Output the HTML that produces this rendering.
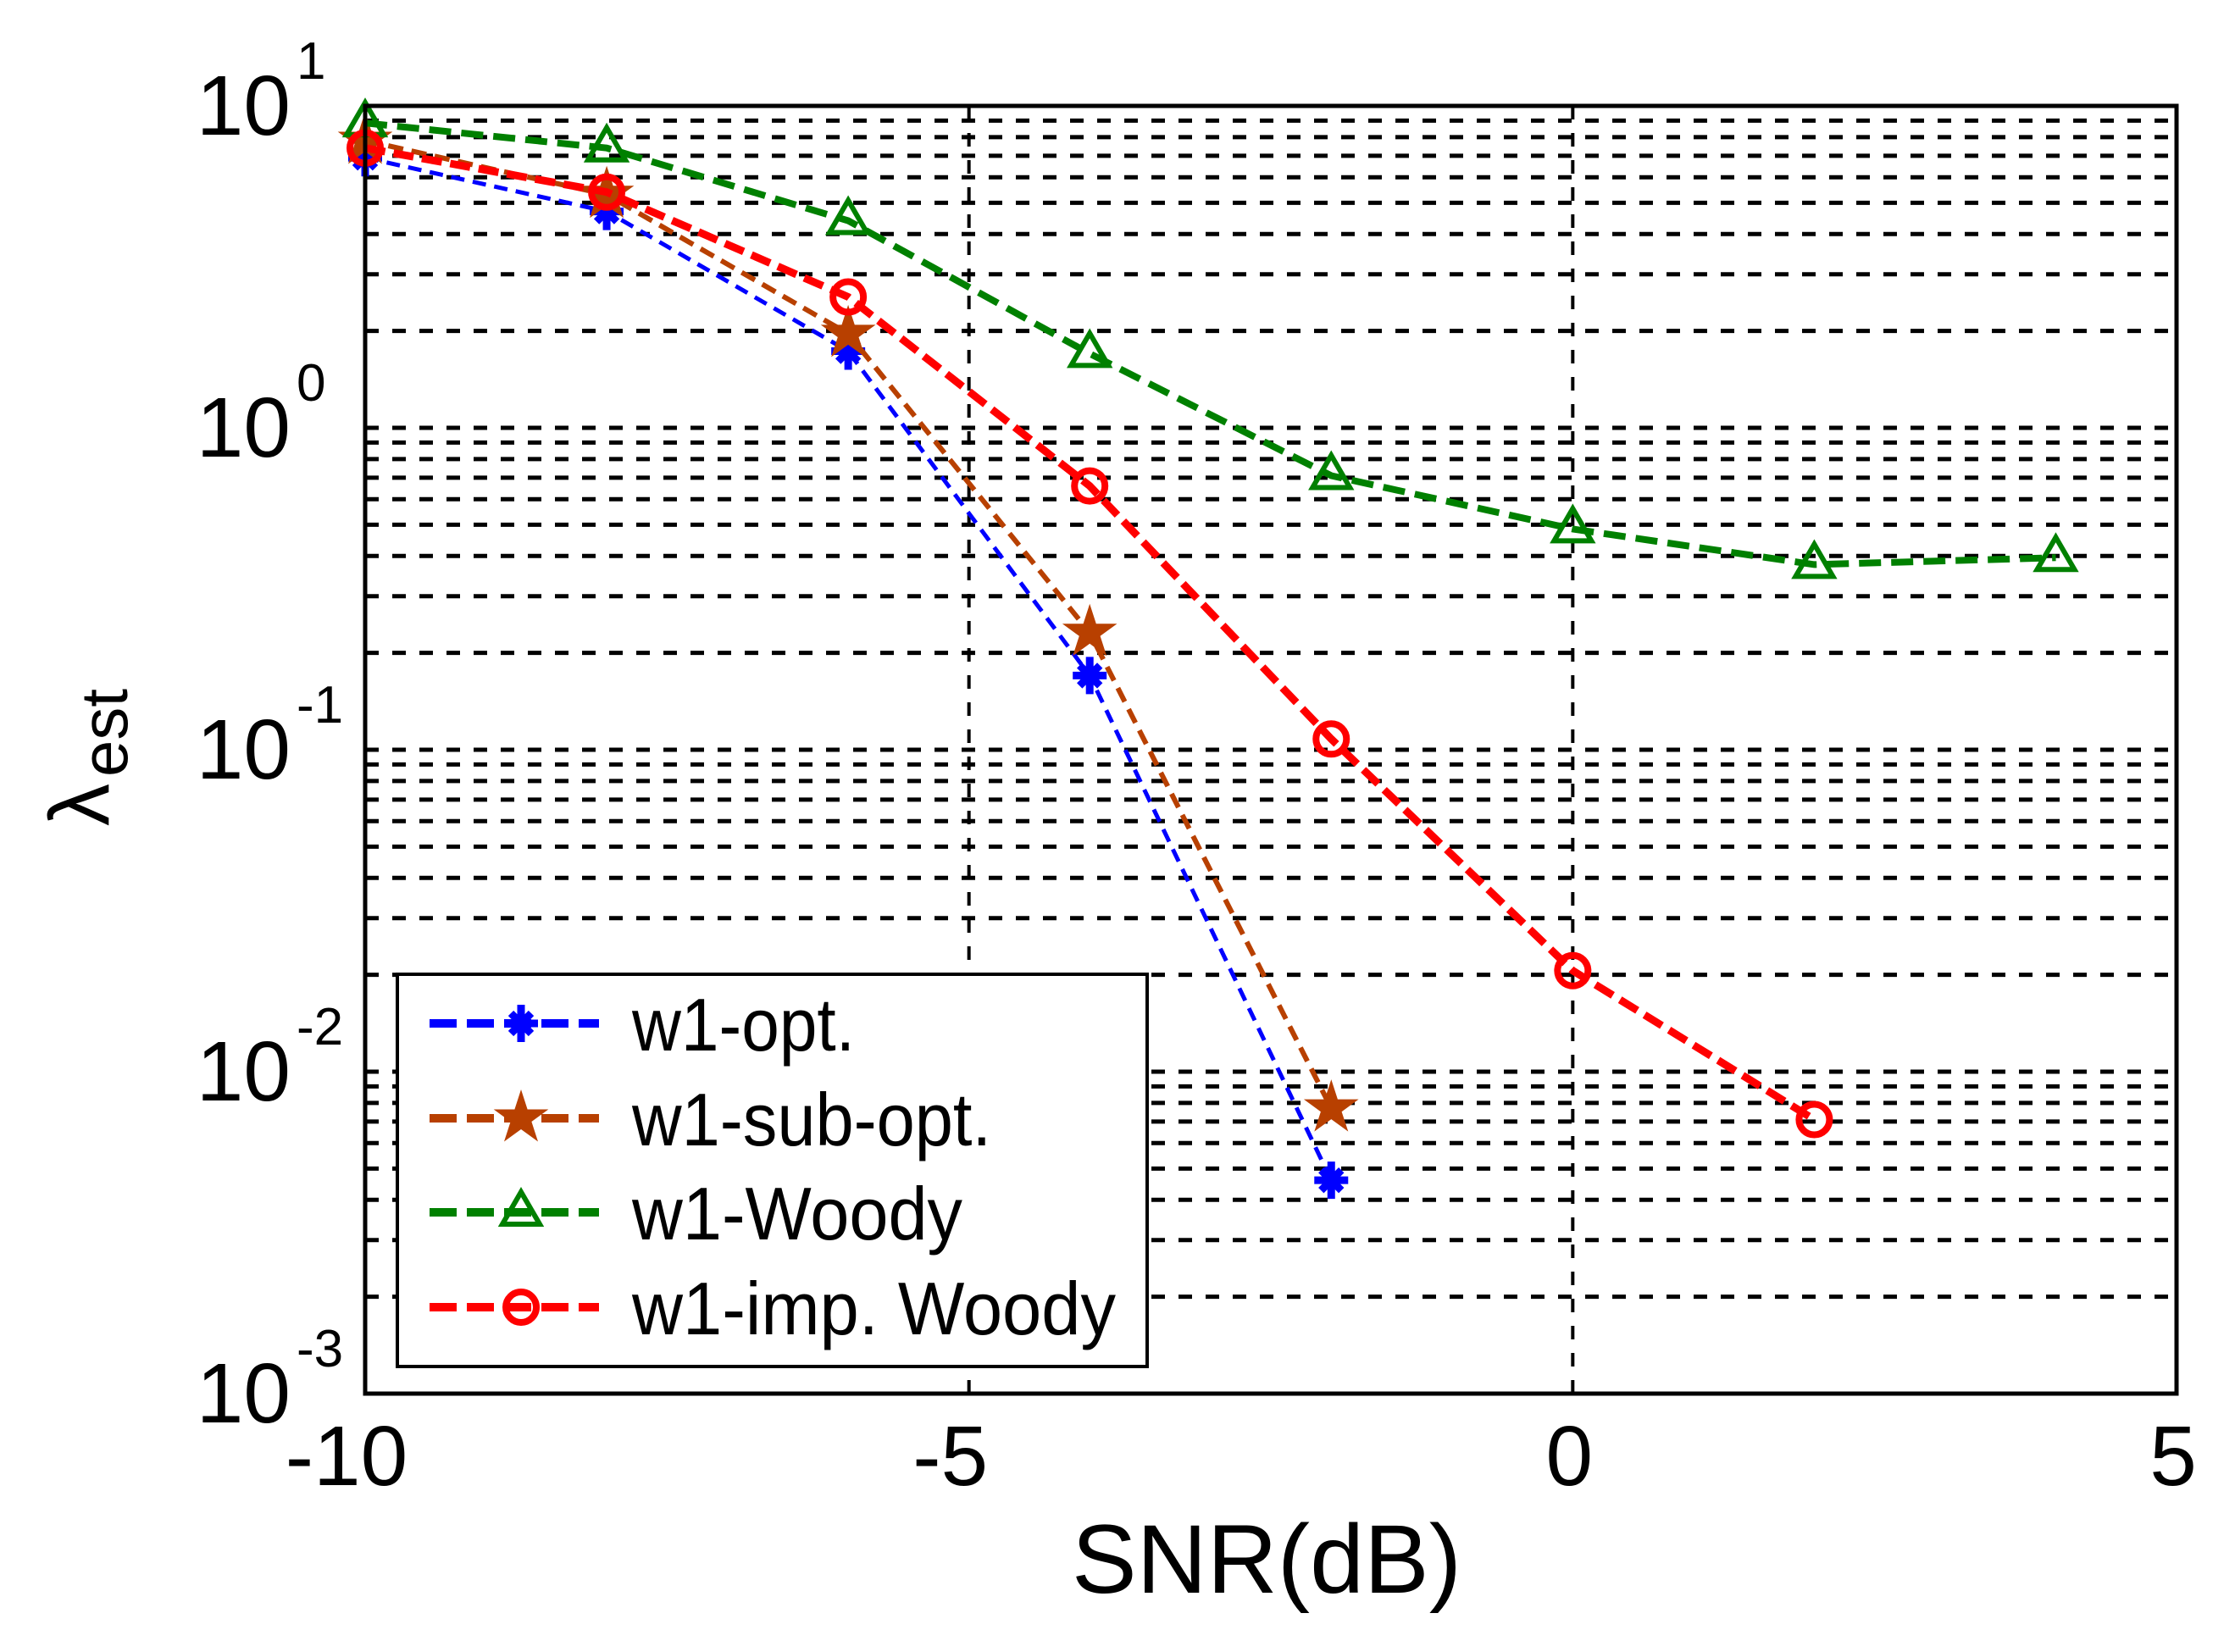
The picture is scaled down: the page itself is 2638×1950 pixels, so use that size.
<!DOCTYPE html>
<html><head><meta charset="utf-8"><style>
html,body{margin:0;padding:0;background:#fff;}
svg{display:block;}
text{font-family:"Liberation Sans",sans-serif;fill:#000;}
</style></head><body>
<svg id="chart" width="2638" height="1950" viewBox="0 0 2638 1950" xmlns="http://www.w3.org/2000/svg">
<g id="grid"></g>
<g id="series"></g>
<rect x="431" y="125" width="2138" height="1520" fill="none" stroke="#000" stroke-width="5"/>
<g id="xticks"></g>
<g id="yticks"></g>
<text x="1495" y="1880" font-size="115" text-anchor="middle">SNR(dB)</text>
<g transform="translate(128,975) rotate(-90)">
<text x="0" y="0" font-size="100" font-family="'DejaVu Serif',serif">λ</text>
<text x="58" y="22" font-size="78">est</text>
</g>
<g id="legend">
<rect x="469" y="1150" width="885" height="463" fill="#fff" stroke="#000" stroke-width="4"/>
</g>
</svg>
<script>
const xVals = [-10, -8, -6, -4, -2, 0, 2, 4];
const optVals = [6.9, 4.7, 1.73, 0.17, 0.0046];
const subOptVals = [7.8, 5.3, 1.96, 0.231, 0.0077];
const woodyVals = [8.85, 7.4, 4.4, 1.7, 0.71, 0.485, 0.376, 0.395];
const impWoodyVals = [7.4, 5.4, 2.55, 0.66, 0.108, 0.0206, 0.0071];
const xTicks = [-10, -5, 0, 5];
const yTickExps = [1, 0, -1, -2, -3];
const seriesNames = ["w1-opt.", "w1-sub-opt.", "w1-Woody", "w1-imp. Woody"];
const legendTextWidths = [263, 424, 390, 571];

const NS = "http://www.w3.org/2000/svg";
const L = 431, R = 2569, T = 125, B = 1645;
function xs(v){ return L + (v + 10) / 15 * (R - L); }
function ys(v){ return T + (1 - Math.log10(v)) / 4 * (B - T); }
function mk(tag, attrs, parent){
  const e = document.createElementNS(NS, tag);
  for (const k in attrs) e.setAttribute(k, attrs[k]);
  parent.appendChild(e);
  return e;
}
const grid = document.getElementById('grid');
for (let e = -3; e < 1; e++) {
  for (let m = 1; m <= 9; m++) {
    const v = m * Math.pow(10, e);
    const y = ys(v);
    const ln = mk('line', {x1:L, x2:R, y1:y, y2:y, stroke:'#000', 'stroke-width':5, 'stroke-dasharray':'16 16'}, grid);
    
    
  }
}
xTicks.forEach(t => {
  const x = xs(t);
  const ln = mk('line', {x1:x, x2:x, y1:T, y2:B, stroke:'#000', 'stroke-width':4, 'stroke-dasharray':'16 16'}, grid);
  
  
});
const xt = document.getElementById('xticks');
xTicks.forEach(t => {
  const tx = mk('text', {x: xs(t) + (t < 0 ? -22 : -4), y: 1753, 'font-size': 100, 'text-anchor':'middle'}, xt);
  tx.textContent = String(t);
  
  
});
const yt = document.getElementById('yticks');
yTickExps.forEach(ex => {
  const y = ys(Math.pow(10, ex));
  const tx = mk('text', {x: 343, y: y + 34, 'font-size': 100, 'text-anchor':'end'}, yt);
  tx.textContent = '10';
  
  
  const sp = mk('text', {x: 350, y: y - 32, 'font-size': 62}, yt);
  sp.textContent = String(ex);
  
  
});

function marker(type, x, y, color, parent){
  let g;
  if (type === 'plus') {
    g = mk('path', {d:`M${x-20},${y}L${x+20},${y}M${x},${y-22}L${x},${y+22}M${x-12},${y-12}L${x+12},${y+12}M${x-12},${y+12}L${x+12},${y-12}`, stroke:color, 'stroke-width':9, fill:'none'}, parent);
  } else if (type === 'star') {
    let p = '';
    for (let i = 0; i < 10; i++) {
      const r = i % 2 ? 13 : 34;
      const a = -Math.PI/2 + i * Math.PI/5;
      p += (i ? 'L' : 'M') + (x + r*Math.cos(a)).toFixed(1) + ',' + (y + r*Math.sin(a)).toFixed(1);
    }
    g = mk('path', {d:p + 'Z', fill:color}, parent);
  } else if (type === 'tri') {
    g = mk('path', {d:`M${x},${y-24}L${x+22},${y+14}L${x-22},${y+14}Z`, fill:'none', stroke:color, 'stroke-width':6}, parent);
  } else {
    g = mk('circle', {cx:x, cy:y, r:18, fill:'none', stroke:color, 'stroke-width':8}, parent);
  }
  return g;
}
const seriesDefs = [
  {vals: optVals, color:'#0000ff', w:5, dash:'16 10', m:'plus'},
  {vals: subOptVals, color:'#b84000', w:6, dash:'18 10', m:'star'},
  {vals: woodyVals, color:'#008000', w:8, dash:'26 12', m:'tri'},
  {vals: impWoodyVals, color:'#ff0000', w:9, dash:'24 10', m:'circ'}
];
const sg = document.getElementById('series');
seriesDefs.forEach((s, i) => {
  const g = mk('g', {}, sg);
  
  
  const pts = s.vals.map((v, j) => xs(xVals[j]).toFixed(1) + ',' + ys(v).toFixed(1)).join(' ');
  const pl = mk('polyline', {points: pts, fill:'none', stroke:s.color, 'stroke-width':s.w, 'stroke-dasharray':s.dash}, g);
  
  
  s.vals.forEach((v, j) => {
    const m = marker(s.m, xs(xVals[j]), ys(v), s.color, g);
    
    
  });
});
const lg = document.getElementById('legend');
const legYs = [1208, 1320, 1431, 1543];
seriesDefs.forEach((s, i) => {
  const y = legYs[i];
  const g = mk('g', {}, lg);
  
  
  mk('line', {x1:507, x2:707, y1:y, y2:y, stroke:s.color, 'stroke-width':10, 'stroke-dasharray':'32 12'}, g);
  marker(s.m, 615, y, s.color, g);
  const tx = mk('text', {x:746, y:y + 32, 'font-size':88, textLength: legendTextWidths[i], lengthAdjust:'spacingAndGlyphs'}, g);
  tx.textContent = seriesNames[i];
  
  
});
</script>
</body></html>
